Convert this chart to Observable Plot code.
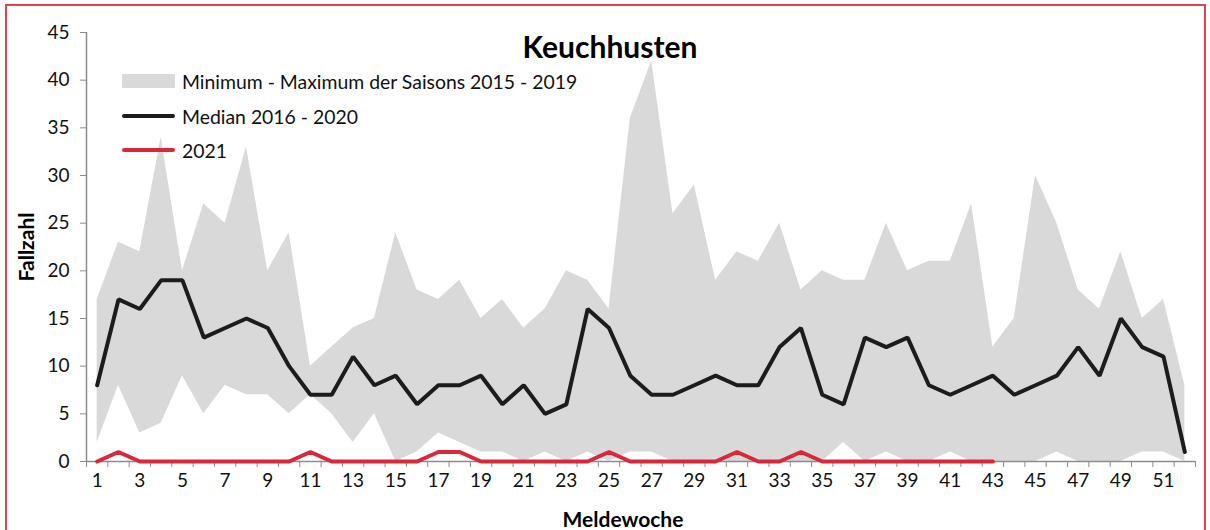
<!DOCTYPE html>
<html>
<head>
<meta charset="utf-8">
<script src="https://cdn.jsdelivr.net/npm/d3@7"></script>
<script src="https://cdn.jsdelivr.net/npm/@observablehq/plot@0.6"></script>
<style>
  body { margin: 0; background: #fff; font-family: Lato, "Open Sans", sans-serif; }
  #wrap { position: relative; width: 1210px; height: 530px; overflow: hidden; background: #fff; }
  #chart { position: absolute; left: 0; top: 0; }
  #border { position: absolute; left: 5px; top: 4px; width: 1201px; height: 620px; border: 2px solid #e2404c; box-sizing: border-box; pointer-events: none; }
  #title { position: absolute; left: 0; width: 1220px; top: 26px; text-align: center; font-weight: 700; font-size: 30px; line-height: 40px; color: #000; }
  .leg { position: absolute; left: 122px; height: 22px; display: flex; align-items: center; font-size: 19.4px; color: #111; white-space: nowrap; }
  .sw { width: 53px; margin-right: 7px; flex: none; }
  .sw.area { height: 14px; background: #d9d9d9; }
  .sw.line { height: 4px; border-radius: 2px; }
</style>
</head>
<body>
<div id="wrap">
  <div id="chart"></div>
  <div id="title">Keuchhusten</div>
  <div id="legend"></div>
  <div id="border"></div>
</div>
<script>
// ---- data ----
const weeks = [1,2,3,4,5,6,7,8,9,10,11,12,13,14,15,16,17,18,19,20,21,22,23,24,25,26,27,28,29,30,31,32,33,34,35,36,37,38,39,40,41,42,43,44,45,46,47,48,49,50,51,52];
const minValues = [2,8,3,4,9,5,8,7,7,5,7,5,2,5,0,1,3,2,1,1,0,1,0,1,0,1,1,0,0,0,0,0,0,0,0,2,0,1,0,0,1,0,0,0,0,1,0,0,0,1,1,0];
const maxValues = [17,23,22,34,20,27,25,33,20,24,10,12,14,15,24,18,17,19,15,17,14,16,20,19,16,36,42,26,29,19,22,21,25,18,20,19,19,25,20,21,21,27,12,15,30,25,18,16,22,15,17,8];
const medianValues = [8,17,16,19,19,13,14,15,14,10,7,7,11,8,9,6,8,8,9,6,8,5,6,16,14,9,7,7,8,9,8,8,12,14,7,6,13,12,13,8,7,8,9,7,8,9,12,9,15,12,11,1];
const weeks2021 = [1,2,3,4,5,6,7,8,9,10,11,12,13,14,15,16,17,18,19,20,21,22,23,24,25,26,27,28,29,30,31,32,33,34,35,36,37,38,39,40,41,42,43];
const values2021 = [0,1,0,0,0,0,0,0,0,0,1,0,0,0,0,0,1,1,0,0,0,0,0,0,1,0,0,0,0,0,1,0,0,1,0,0,0,0,0,0,0,0,0];
const yTicks = [0,5,10,15,20,25,30,35,40,45];
const xTickLabels = [1,3,5,7,9,11,13,15,17,19,21,23,25,27,29,31,33,35,37,39,41,43,45,47,49,51];
const seriesNames = ["Minimum - Maximum der Saisons 2015 - 2019", "Median 2016 - 2020", "2021"];
const seriesColors = ["#d9d9d9", "#1c1c1c", "#d9283b"];
const xLabel = "Meldewoche";
const yLabel = "Fallzahl";

// ---- tables ----
const table = weeks.map((w, i) => ({week: w, min: minValues[i], max: maxValues[i], median: medianValues[i]}));
const table2021 = weeks2021.map((w, i) => ({week: w, value: values2021[i]}));
const xDomain = [weeks[0] - 0.5, weeks[weeks.length - 1] + 0.5];
const boundaries = [...weeks.map(w => w - 0.5), weeks[weeks.length - 1] + 0.5];
const axisGray = "#8c8c8c";

const chart = Plot.plot({
  width: 1210,
  height: 530,
  marginLeft: 86,
  marginRight: 15,
  marginTop: 32,
  marginBottom: 69,
  style: {fontFamily: "Lato, 'Open Sans', sans-serif", fontSize: "19px", color: "#000", background: "transparent"},
  x: {domain: xDomain},
  y: {domain: [0, 45]},
  marks: [
    Plot.areaY(table, {x: "week", y1: "min", y2: "max", fill: seriesColors[0]}),
    Plot.ruleX([xDomain[0]], {stroke: axisGray, strokeWidth: 1.5}),
    Plot.ruleY([0], {stroke: axisGray, strokeWidth: 1.5}),
    Plot.axisY(yTicks, {tickSize: 6, stroke: axisGray, fill: "#111", fontSize: 19, tickPadding: 11, label: null}),
    Plot.axisX(boundaries, {tickSize: 6, stroke: axisGray, tickFormat: () => "", label: null}),
    Plot.axisX(xTickLabels, {tickSize: 0, tickPadding: 12, fill: "#111", fontSize: 19, label: null}),
    Plot.text([yLabel], {text: d => d, frameAnchor: "left", textAnchor: "middle", dx: -59, rotate: -90, fontWeight: 700, fontSize: 21, fill: "#000"}),
    Plot.text([xLabel], {text: d => d, frameAnchor: "bottom", dy: 65, dx: -18, fontWeight: 700, fontSize: 21, fill: "#000"}),
    Plot.lineY(table, {x: "week", y: "median", stroke: seriesColors[1], strokeWidth: 4, strokeLinejoin: "miter"}),
    Plot.lineY(table2021, {x: "week", y: "value", stroke: seriesColors[2], strokeWidth: 4, strokeLinejoin: "miter"})
  ]
});
document.getElementById("chart").appendChild(chart);

// ---- legend (HTML overlay) ----
const legend = document.getElementById("legend");
const legTops = [70, 105, 139];
seriesNames.forEach((name, i) => {
  const row = document.createElement("div");
  row.className = "leg";
  row.style.top = legTops[i] + "px";
  const sw = document.createElement("span");
  sw.className = "sw " + (i === 0 ? "area" : "line");
  sw.style.background = seriesColors[i];
  row.appendChild(sw);
  const t = document.createElement("span");
  t.textContent = name;
  row.appendChild(t);
  legend.appendChild(row);
});
</script>
</body>
</html>
